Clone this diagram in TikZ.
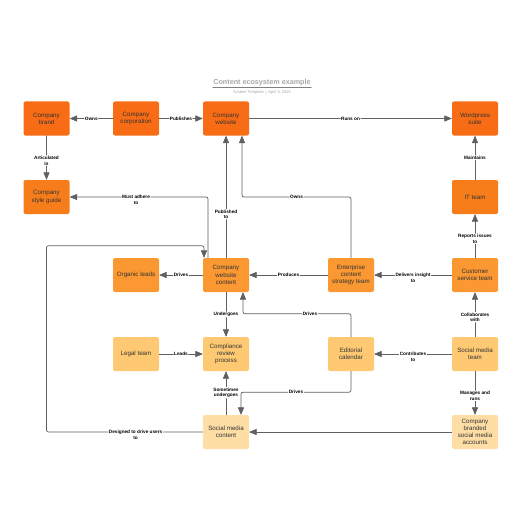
\documentclass[tikz,border=0pt]{standalone}
\usepackage{fontspec}
\setmainfont{Liberation Sans}
\usepackage{tikz}
\usetikzlibrary{arrows}

\definecolor{darkorange}{HTML}{F86C15}
\definecolor{midorange}{HTML}{F77D1B}
\definecolor{lightorange}{HTML}{FB9832}
\definecolor{sand}{HTML}{FFC973}
\definecolor{paleSand}{HTML}{FFDEA6}
\definecolor{inkgray}{HTML}{333333}
\definecolor{wiregray}{HTML}{606060}
\definecolor{titlegray}{HTML}{A8A8A8}

\begin{document}
\begin{tikzpicture}[line cap=round,line join=round,>=triangle 45,x=1pt,y=-1pt,
    box/.style={rounded corners=2pt, minimum width=46pt, minimum height=34pt, align=center, inner sep=1pt, font=\fontsize{6.2}{7.2}\selectfont, text=inkgray},
    lbl/.style={fill=white, inner sep=0.6pt, align=center, font=\bfseries\fontsize{4.7}{5.6}\selectfont, text=black},
    link/.style={->, draw=wiregray, line width=0.7pt, rounded corners=2pt}]
                    \fill[white] (0,0) rectangle (516,516);
                    \useasboundingbox (0,0) rectangle (516,516);

                    % title
                    \node[font=\bfseries\fontsize{7.2}{8}\selectfont, text=titlegray, inner sep=0.5pt] (title) at (262,83) {Content ecosystem example};
                    \draw[line width=0.5pt, draw=gray] (title.south west) -- (title.south east);
                    \node[font=\fontsize{4}{5}\selectfont, text=titlegray] (sub) at (262,92) {System Template \,|\, April 4, 2025};

                    % row 1
                    \node[box, fill=darkorange] (brand) at (46.5,118.5) {Company\\brand};
                    \node[box, fill=darkorange] (corp) at (136,118.5) {Company\\corporation};
                    \node[box, fill=darkorange] (web) at (226,118.5) {Company\\website};
                    \node[box, fill=darkorange] (wp) at (475,118.5) {Wordpress\\suite};

                    % row 2
                    \node[box, fill=midorange] (guide) at (46.5,197) {Company\\style guide};
                    \node[box, fill=midorange] (it) at (475,197) {IT team};

                    % row 3
                    \node[box, fill=lightorange] (leads) at (136,275) {Organic leads};
                    \node[box, fill=lightorange] (cont) at (226,275) {Company\\website\\content};
                    \node[box, fill=lightorange] (ent) at (351,275) {Enterprise\\content\\strategy team};
                    \node[box, fill=lightorange] (cust) at (475,275) {Customer\\service team};

                    % row 4
                    \node[box, fill=sand] (legal) at (136,354) {Legal team};
                    \node[box, fill=sand] (comp) at (226,354) {Compliance\\review\\process};
                    \node[box, fill=sand] (edit) at (351,354) {Editorial\\calendar};
                    \node[box, fill=sand] (smt) at (475,354) {Social media\\team};

                    % row 5
                    \node[box, fill=paleSand] (smc) at (226,432) {Social media\\content};
                    \node[box, fill=paleSand] (acct) at (475,432) {Company\\branded\\social media\\accounts};

                    \draw[link] (corp) -- node[lbl] {Owns} (brand);
                    \draw[link] (corp) -- node[lbl] {Publishes} (web);
                    \draw[link] (web) -- node[lbl] {Runs on} (wp);
                    \draw[link] (brand) -- node[lbl, yshift=-2.8pt] {Articulated\\in} (guide);
                    \draw[link] (it) -- node[lbl] {Maintains} (wp);
                    \draw[link] ([xshift=-18pt]cont.north) |- node[lbl, pos=0.76, yshift=-2.8pt] {Must adhere\\to} (guide);
                    \draw[link] (cont) -- node[lbl, pos=0.38, yshift=-2.8pt] {Published\\to} (web);
                    \draw[link] (ent) -- (ent |- guide) -| node[lbl, pos=0.25] {Owns} ([xshift=16pt]web.south);
                    \draw[link] (ent) -- node[lbl] {Produces} (cont);
                    \draw[link] (cust) -- node[lbl, yshift=-2.8pt] {Delivers insight\\to} (ent);
                    \draw[link] (cust) -- node[lbl, yshift=-2.8pt] {Reports issues\\to} (it);
                    \draw[link] (cont) -- node[lbl] {Drives} (leads);
                    \draw[link] (cont) -- node[lbl] {Undergoes} (comp);
                    \draw[link] (edit) -- ([yshift=23pt]edit.north) -| node[lbl, pos=0.19] {Drives} ([xshift=17pt]cont.south);
                    \draw[link] (legal) -- node[lbl] {Leads} (comp);
                    \draw[link] (smt) -- node[lbl, yshift=-2.8pt] {Contributes\\to} (edit);
                    \draw[link] (smt) -- node[lbl, yshift=-2.8pt] {Collaborates\\with} (cust);
                    \draw[link] (smt) -- node[lbl, yshift=-2.8pt] {Manages and\\runs} (acct);
                    \draw[link] (smc) -- node[lbl, pos=0.57, yshift=-2.8pt] {Sometimes\\undergoes} (comp);
                    \draw[link] (edit) -- ([yshift=-21pt]edit.south) -| node[lbl, pos=0.25] {Drives} ([xshift=15pt]smc.north);
                    \draw[link] (acct) -- (smc);
                    \draw[link] (smc) -- node[lbl, pos=0.43, yshift=-2.8pt] {Designed to drive users\\to} (smc -| brand) |- ([xshift=-22pt,yshift=12pt]cont.north) -- ([xshift=-22pt]cont.north);
                \end{tikzpicture}
\end{document}
